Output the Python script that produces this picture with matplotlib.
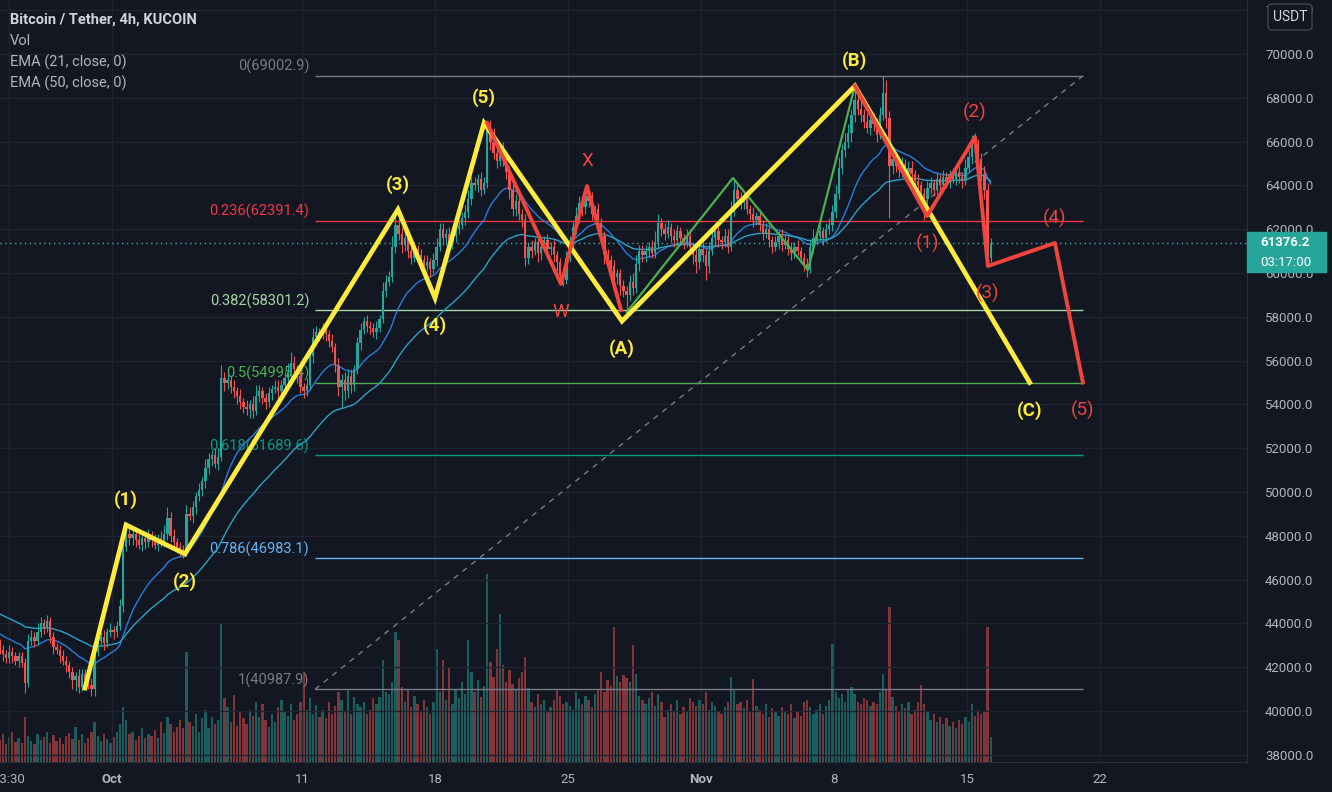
import numpy as np
import matplotlib.pyplot as plt
from matplotlib.patches import Rectangle, FancyBboxPatch
from matplotlib.ticker import FuncFormatter

plt.rcParams['font.family'] = ['Roboto', 'DejaVu Sans']

BG = '#131722'
TXT = '#b2b5be'
UP, DOWN = '#26a69a', '#ef5350'

# 4h candles, closes in $100 units, one row per day (Sep 25 .. Nov 16)
first_open = 430
closes_sep = [
    428, 426, 424, 427, 425, 423,
    425, 422, 413, 432, 434, 432,
    436, 440, 438, 441, 434, 429,
    428, 425, 423, 421, 418, 414,
    416, 411, 417, 414, 412, 410,
    427, 432, 434, 431, 436, 437,
]
closes_oct = [
    436, 439, 448, 475, 481, 479,
    481, 478, 476, 479, 477, 480,
    478, 476, 479, 477, 481, 488,
    480, 477, 475, 474, 473, 490,
    489, 493, 498, 501, 505, 511,
    515, 517, 513, 516, 552, 550,
    551, 548, 546, 544, 541, 539,
    538, 540, 537, 544, 546, 543,
    541, 545, 547, 548, 546, 549,
    552, 555, 559, 556, 553, 548,
    546, 549, 562, 571, 573, 572,
    574, 572, 569, 566, 558, 548,
    551, 546, 553, 549, 556, 568,
    574, 578, 576, 575, 573, 575,
    579, 592, 596, 598, 612, 622,
    618, 613, 616, 610, 607, 611,
    608, 606, 603, 605, 602, 606,
    612, 620, 616, 618, 614, 617,
    620, 622, 625, 628, 634, 641,
    640, 643, 638, 641, 665, 660,
    655, 651, 657, 652, 646, 638,
    629, 633, 627, 624, 607, 612,
    610, 614, 609, 612, 615, 611,
    612, 608, 605, 599, 597, 607,
    614, 621, 626, 632, 630, 635,
    633, 627, 629, 623, 617, 608,
    606, 603, 598, 600, 594, 592,
    590, 596, 593, 604, 610, 608,
    610, 612, 609, 614, 623, 620,
    618, 621, 617, 615, 619, 616,
    614, 617, 612, 608, 605, 611,
]
closes_nov = [
    608, 603, 610, 616, 619, 615,
    614, 617, 612, 629, 638, 634,
    632, 635, 629, 627, 624, 626,
    622, 618, 620, 615, 612, 614,
    617, 613, 615, 611, 609, 612,
    610, 607, 604, 602, 612, 616,
    617, 619, 616, 620, 622, 628,
    636, 648, 656, 660, 664, 672,
    679, 675, 672, 669, 666, 670,
    668, 663, 672, 682, 671, 649,
    652, 649, 647, 650, 646, 648,
    645, 642, 640, 636, 634, 639,
    641, 638, 643, 640, 644, 642,
    645, 643, 646, 644, 642, 648,
    653, 660, 659, 652, 645, 638,
    607, 613.762,
]

# wick lengths above / below the body, $100 units
wick_up = [
    3, 2, 2, 3, 2, 2,  2, 2, 2, 3, 3, 2,  4, 3, 2, 3, 2, 2,  2, 2, 3, 2, 2, 2,
    2, 3, 2, 2, 2, 3,  3, 3, 2, 3, 2, 3,  2, 2, 3, 5, 4, 3,  3, 2, 3, 2, 3, 3,
    2, 3, 2, 3, 4, 5,  3, 3, 2, 2, 2, 4,  3, 3, 2, 3, 2, 4,  3, 2, 3, 4, 6, 3,
    3, 2, 3, 2, 3, 2,  3, 2, 4, 5, 3, 2,  2, 3, 2, 3, 3, 2,  3, 4, 5, 3, 2, 2,
    2, 3, 3, 4, 3, 2,  3, 2, 2, 3, 2, 3,  3, 4, 3, 3, 2, 3,  3, 2, 3, 2, 2, 3,
    2, 4, 3, 3, 5, 7,  4, 3, 4, 3, 2, 3,  2, 3, 2, 3, 2, 3,  4, 3, 3, 2, 3, 2,
    3, 2, 3, 3, 4, 3,  3, 2, 3, 3, 4, 5,  6, 4, 3, 3, 2, 3,  4, 3, 3, 2, 3, 2,
    3, 2, 3, 3, 2, 3,  2, 3, 2, 2, 3, 3,  3, 3, 4, 3, 3, 2,  2, 4, 2, 3, 2, 2,
    3, 2, 3, 2, 2, 3,  2, 3, 4, 4, 3, 3,  3, 2, 3, 5, 4, 2,  3, 3, 2, 3, 3, 2,
    2, 3, 3, 2, 3, 4,  3, 3, 4, 3, 3, 2,  2, 3, 3, 4, 5, 3,  3, 2, 3, 2, 3, 2,
    3, 2, 3, 2, 2, 3,  2, 3, 3, 2, 3, 2,  3, 2, 2, 3, 3, 4,  2, 3, 2, 3, 3, 3,
    4, 5, 3, 4, 4, 3,  7, 3, 4, 3, 4, 3,  3, 3, 4, 8, 6, 3,  4, 3, 3, 3, 2, 3,
    3, 2, 3, 2, 3, 3,  3, 2, 3, 2, 3, 2,  2, 3, 2, 3, 2, 4,  3, 3, 4, 2, 3, 4,
    3, 2,
]
wick_dn = [
    2, 3, 2, 2, 3, 2,  3, 2, 5, 2, 2, 3,  2, 2, 3, 2, 3, 3,  2, 3, 2, 3, 3, 4,
    5, 3, 2, 3, 2, 3,  3, 2, 2, 3, 2, 2,  3, 2, 2, 3, 2, 3,  3, 3, 2, 3, 3, 2,
    3, 2, 3, 2, 2, 3,  3, 2, 3, 3, 3, 2,  2, 3, 3, 2, 3, 3,  3, 3, 2, 3, 2, 4,
    3, 3, 3, 4, 3, 3,  3, 4, 3, 2, 3, 3,  3, 2, 3, 2, 3, 2,  3, 2, 3, 4, 3, 3,
    3, 2, 2, 3, 2, 3,  2, 3, 3, 2, 3, 4,  9, 4, 3, 4, 3, 2,  3, 2, 3, 3, 2, 3,
    2, 2, 3, 2, 2, 3,  3, 4, 3, 3, 3, 2,  3, 3, 4, 2, 4, 2,  3, 2, 3, 3, 2, 3,
    3, 2, 2, 3, 3, 3,  2, 3, 3, 2, 2, 4,  3, 3, 2, 3, 3, 4,  3, 3, 3, 3, 4, 3,
    3, 2, 4, 3, 2, 3,  3, 3, 4, 3, 3, 2,  2, 2, 3, 3, 4, 3,  3, 3, 2, 3, 3, 4,
    3, 3, 3, 3, 4, 3,  9, 3, 3, 2, 3, 3,  3, 3, 2, 2, 3, 3,  3, 2, 3, 3, 2, 3,
    3, 2, 3, 4, 5, 3,  3, 6, 3, 2, 3, 3,  3, 2, 3, 2, 3, 3,  3, 3, 2, 3, 3, 2,
    3, 3, 2, 3, 3, 2,  3, 3, 2, 3, 3, 2,  2, 3, 3, 4, 2, 3,  3, 2, 3, 2, 2, 3,
    3, 2, 3, 3, 3, 4,  3, 3, 3, 3, 2, 3,  3, 3, 2, 2, 5, 24,  4, 3, 3, 3, 4, 3,
    3, 3, 4, 4, 10, 3,  3, 3, 2, 3, 3, 3,  3, 2, 3, 3, 3, 2,  2, 3, 3, 3, 3, 4,
    4, 2,
]

# volume (relative units, one row per day)
volumes = [
    22, 28, 18, 25, 30, 20,  24, 19, 45, 26, 21, 18,  28, 22, 25, 30, 19, 27,
    21, 24, 18, 26, 29, 23,  35, 22, 28, 19, 24, 30,  40, 26, 21, 28, 23, 19,
    25, 30, 38, 55, 42, 28,  30, 22, 26, 34, 24, 28,  26, 32, 24, 40, 29, 45,
    38, 30, 35, 42, 34, 110,  40, 36, 48, 30, 44, 52,  34, 45, 38, 42, 138, 64,
    55, 40, 67, 36, 50, 44,  38, 52, 46, 60, 45, 58,  42, 35, 48, 40, 55, 62,
    50, 46, 58, 42, 48, 60,  90, 52, 64, 48, 57, 45,  52, 44, 60, 48, 56, 70,
    62, 50, 72, 48, 65, 58,  55, 60, 48, 52, 64, 58,  65, 102, 70, 68, 80, 130,
    122, 75, 60, 72, 55, 66,  58, 50, 62, 55, 48, 60,  113, 70, 102, 62, 95, 58,
    72, 64, 80, 68, 122, 90,  70, 82, 65, 76, 188, 100,  85, 113, 148, 97, 80, 92,
    78, 72, 84, 90, 105, 74,  60, 55, 68, 58, 62, 50,  55, 62, 72, 66, 58, 60,
    56, 52, 70, 63, 58, 66,  62, 55, 68, 72, 90, 70,  82, 76, 135, 86, 80, 87,
    84, 80, 117, 88, 66, 62,  58, 64, 70, 56, 68, 60,  45, 52, 58, 50, 62, 48,
    55, 50, 64, 60, 56, 62,  58, 70, 52, 60, 56, 50,  48, 55, 60, 85, 72, 58,
    60, 54, 62, 50, 83, 56,  52, 48, 58, 45, 54, 50,  46, 55, 50, 48, 58, 44,
    50, 46, 60, 62, 55, 48,  52, 58, 48, 56, 62, 118,  70, 64, 68, 60, 72, 75,
    68, 60, 58, 64, 62, 56,  60, 58, 70, 88, 72, 155,  65, 56, 50, 58, 54, 60,
    48, 52, 60, 77, 58, 50,  42, 48, 40, 45, 38, 44,  36, 40, 34, 42, 38, 45,
    40, 58, 46, 52, 48, 50,  135, 25,
]

ema21_seed, ema50_seed = 43600, 44500
last_price = 61376.2

# fib retracement anchors
fib_hi, fib_lo = 69002.9, 40987.9
fib_levels = ['0', '0.236', '0.382', '0.5', '0.618', '0.786', '1']
fib_colors = ['#787b86', '#f23645', '#a5d6a7', '#4caf50', '#089981', '#64b5f6', '#787b86']
fib_start, fib_end = 10.68, 51.1     # days from Oct 1

# Elliott wave pivots (days from Oct 1, price)
yellow_days = [-1.42, 0.74, 3.84, 15.05, 17.0, 19.58, 26.84, 39.1, 48.3]
yellow_prices = [41050, 48500, 47170, 62900, 58860, 66850, 57800, 68540, 55000]
yellow_labels = ['', '(1)', '(2)', '(3)', '(4)', '(5)', '(A)', '(B)', '(C)']

green_days = [27.1, 32.68, 36.63, 39.1]
green_prices = [58220, 64340, 60140, 68540]

wxy_days = [19.74, 23.63, 25.0, 26.79]
wxy_prices = [66850, 59500, 63970, 58310]
wxy_labels = ['', 'W', 'X', '']

red_days = [39.1, 42.9, 45.42, 46.1, 49.63, 51.1]
red_prices = [68540, 62600, 66210, 60320, 61370, 55000]
red_labels = ['', '(1)', '(2)', '(3)', '(4)', '(5)']

tick_days = [-5.42, 0, 10, 17, 24, 31, 38, 45, 52]
tick_labels = ['13:30', 'Oct', '11', '18', '25', 'Nov', '8', '15', '22']

# ---------------------------------------------------------------
closes = np.array(closes_sep + closes_oct + closes_nov) * 100.0
opens = np.r_[first_open * 100.0, closes[:-1]]
highs = np.maximum(opens, closes) + np.array(wick_up) * 100.0
lows = np.minimum(opens, closes) - np.array(wick_dn) * 100.0
n = len(closes)
t = (np.arange(n) - 36 + 0.5) / 6.0
up = closes >= opens
cols = np.where(up, UP, DOWN)


def ema(values, span, seed):
    a = 2.0 / (span + 1)
    out = []
    e = seed
    for v in values:
        e = e + a * (v - e)
        out.append(e)
    return np.array(out)


ema21 = ema(closes, 21, ema21_seed)
ema50 = ema(closes, 50, ema50_seed)

W, H = 1332, 792
fig = plt.figure(figsize=(W / 100, H / 100), dpi=100, facecolor=BG)
rect = [0, 30 / H, 1247 / W, 762 / H]
xlim = (-112 / 19, (1247 - 112) / 19)
ylim = (37671, 72466)

axv = fig.add_axes(rect, zorder=0)
axv.set_facecolor(BG)
axv.set_xlim(*xlim)
axv.set_ylim(0, 762)
axv.axis('off')
vcols = [(0.149, 0.651, 0.604, 0.5) if u else (0.937, 0.325, 0.314, 0.5) for u in up]
axv.bar(t, volumes, width=0.115, color=vcols, linewidth=0)

ax = fig.add_axes(rect, zorder=1)
ax.patch.set_alpha(0)
ax.set_xlim(*xlim)
ax.set_ylim(*ylim)

ax.set_yticks(np.arange(38000, 72001, 2000))
ax.yaxis.tick_right()
ax.yaxis.set_major_formatter(FuncFormatter(lambda v, p: f"{v:.1f}"))
ax.tick_params(axis='y', length=0, pad=13, labelsize=9.5, labelcolor=TXT)
ax.set_xticks(tick_days)
ax.set_xticklabels(tick_labels)
ax.tick_params(axis='x', length=0, pad=8, labelsize=9.5, labelcolor=TXT)
for lbl in ax.get_xticklabels():
    if lbl.get_text() in ('Oct', 'Nov'):
        lbl.set_fontweight('bold')
ax.grid(True, color='#1f2330', lw=1)
ax.set_axisbelow(True)
for s in ('top', 'left'):
    ax.spines[s].set_visible(False)
ax.spines['right'].set_color('#2a2e39')
ax.spines['bottom'].set_color('#2a2e39')

# fib retracement
for lvl, c in zip(fib_levels, fib_colors):
    p = fib_hi - (fib_hi - fib_lo) * float(lvl)
    ax.hlines(p, fib_start, fib_end, color=c, lw=1, zorder=2)
    ax.annotate(f"{lvl}({p:.1f})", (fib_start, p), xytext=(-4, 1), textcoords='offset points',
                ha='right', va='bottom', color=c, fontsize=10.5, zorder=2)
ax.plot([fib_start, fib_end], [fib_lo, fib_hi], color='#787b86', lw=1, ls=(0, (4, 4)), zorder=2)

ax.axhline(last_price, color='#4aa8a0', lw=1, ls=(0, (1, 2.5)), zorder=2)

# EMAs
ax.plot(t, ema21, color='#2a7bdc', lw=1.0, zorder=3)
ax.plot(t, ema50, color='#2ba3c4', lw=1.0, zorder=3)

# candles
ax.vlines(t, lows, highs, colors=cols, lw=0.8, zorder=4)
body = np.maximum(np.abs(closes - opens), 40)
ax.bar(t, body, bottom=np.minimum(opens, closes), width=0.115, color=cols, linewidth=0, zorder=4)

# wave drawings
YEL, RED, GRN = '#ffeb3b', '#f0443c', '#4caf50'
ax.plot(green_days, green_prices, color=GRN, lw=1.6, zorder=5)
ax.plot(yellow_days, yellow_prices, color=YEL, lw=3.4, zorder=6, solid_joinstyle='miter')
ax.plot(wxy_days, wxy_prices, color=RED, lw=2.8, zorder=6)
ax.plot(red_days, red_prices, color=RED, lw=2.8, zorder=6)


def label(days, prices, labels, color, weight):
    for i, (d, p, s) in enumerate(zip(days, prices, labels)):
        if not s:
            continue
        prev_p = prices[i - 1] if i > 0 else p
        above = p > prev_p
        dy = 18 if above else -20
        ax.annotate(s, (d, p), xytext=(0, dy), textcoords='offset points', ha='center', va='center',
                    color=color, fontsize=13.5, fontweight=weight, zorder=7)


label(yellow_days, yellow_prices, yellow_labels, YEL, 'bold')
label(wxy_days, wxy_prices, wxy_labels, RED, 'normal')
label(red_days, red_prices, red_labels, RED, 'normal')

# legend text
fig.text(10 / W, 1 - 20 / H, 'Bitcoin / Tether, 4h, KUCOIN', color='#d1d4dc', fontsize=10.5,
         fontweight='bold', va='center')
for k, s in enumerate(['Vol', 'EMA (21, close, 0)', 'EMA (50, close, 0)']):
    fig.text(10 / W, 1 - (41 + 21 * k) / H, s, color='#b2b5be', fontsize=10.5, va='center')

# last price tag
fig.add_artist(Rectangle((1247 / W, 1 - 272 / H), 79 / W, 40 / H, transform=fig.transFigure,
                         color=UP, zorder=10))
fig.text(1260 / W, 1 - 242 / H, f"{last_price:.1f}", color='white', fontsize=9.5,
         fontweight='bold', va='center', zorder=11)
fig.text(1260 / W, 1 - 262 / H, '03:17:00', color='white', fontsize=9.5, va='center', zorder=11)

# currency box
fig.add_artist(FancyBboxPatch((1268 / W, 1 - 30 / H), 44 / W, 26 / H, transform=fig.transFigure,
                              boxstyle='round,pad=0,rounding_size=0.004', fc=BG, ec='#434651',
                              lw=1, zorder=10))
fig.text(1290 / W, 1 - 17 / H, 'USDT', color='#d1d4dc', fontsize=10, ha='center', va='center', zorder=11)

fig.savefig('out.png', dpi=100, facecolor=BG)
